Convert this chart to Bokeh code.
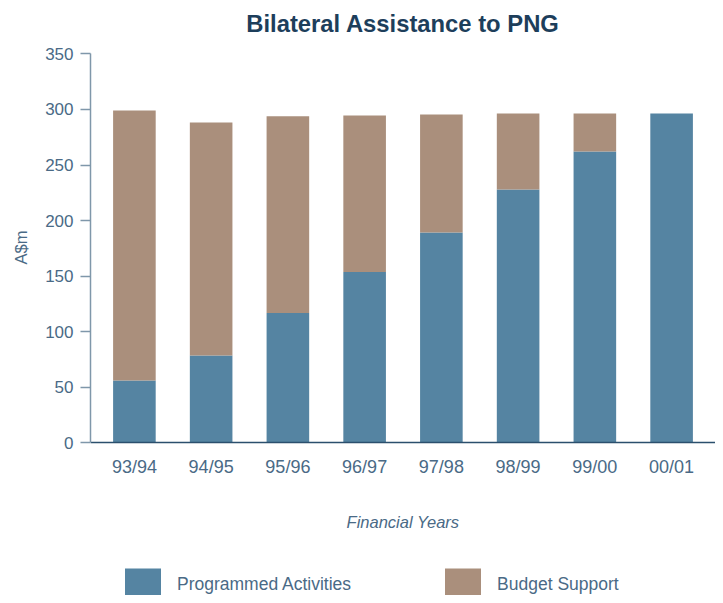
from bokeh.plotting import figure
from bokeh.models import ColumnDataSource, FactorRange, Range1d, Legend, LegendItem, FixedTicker, Title
from bokeh.embed import file_html
from bokeh.resources import INLINE

years = ["93/94", "94/95", "95/96", "96/97", "97/98", "98/99", "99/00", "00/01"]
programmed = [56.1, 78.6, 116.7, 153.6, 189.3, 228.0, 262.2, 296.4]
budget = [243.0, 209.7, 177.2, 141.0, 106.2, 68.4, 34.2, 0.0]
series = ["programmed", "budget"]
series_labels = ["Programmed Activities", "Budget Support"]
colors = ["#5584a2", "#aa8f7c"]
y_ticks = [0, 50, 100, 150, 200, 250, 300, 350]

TXT = "#4a6a86"
FONT = "Liberation Sans"

source = ColumnDataSource(dict(years=years, programmed=programmed, budget=budget))

p = figure(width=715, height=595,
           x_range=FactorRange(*years, range_padding=0.072, range_padding_units="absolute"),
           y_range=Range1d(-137.5, 357.6),
           output_backend="svg", toolbar_location=None,
           min_border_left=90, min_border_right=0, min_border_top=45, min_border_bottom=0)

renderers = p.vbar_stack(series, x="years", width=0.555, color=colors, source=source, line_color=None)

p.title.text = "Bilateral Assistance to PNG"
p.title.align = "center"
p.title.vertical_align = "top"
p.title.text_font = FONT
p.title.text_font_style = "bold"
p.title.text_font_size = "23.8px"
p.title.text_color = "#1d3e5b"
p.title.standoff = 14

p.xgrid.grid_line_color = None
p.ygrid.grid_line_color = None
p.outline_line_color = None

xa = p.xaxis[0]
xa.fixed_location = 0
xa.axis_line_color = "#2b4f6d"
xa.axis_line_width = 1.5
xa.major_tick_line_color = None
xa.major_tick_out = 0
xa.minor_tick_line_color = None
xa.major_label_text_font = FONT
xa.major_label_text_font_size = "18px"
xa.major_label_text_color = TXT
xa.major_label_standoff = 14
xa.axis_label = "Financial Years"
xa.axis_label_text_font = FONT
xa.axis_label_text_font_style = "italic"
xa.axis_label_text_font_size = "16.5px"
xa.axis_label_text_color = TXT
xa.axis_label_standoff = 33

ya = p.yaxis[0]
ya.ticker = FixedTicker(ticks=y_ticks)
ya.bounds = (0, 350)
ya.axis_line_color = "#7f97aa"
ya.axis_line_width = 1.5
ya.major_tick_line_color = "#7f97aa"
ya.major_tick_line_width = 1.5
ya.major_tick_out = 10
ya.major_tick_in = 0
ya.minor_tick_line_color = None
ya.major_label_text_font = FONT
ya.major_label_text_font_size = "17px"
ya.major_label_text_color = TXT
ya.major_label_standoff = 7

y_title = Title(text="A$m", align="left", vertical_align="top", offset=331, standoff=21,
                text_font=FONT, text_font_style="normal", text_font_size="16.5px",
                text_color=TXT)
p.add_layout(y_title, "left")

legend = Legend(
    items=[LegendItem(label=series_labels[i], renderers=[renderers[i]]) for i in range(2)],
    location=(30, -10), orientation="horizontal",
    glyph_width=45, glyph_height=41, label_standoff=12, spacing=89,
    padding=0, margin=0, border_line_color=None, background_fill_alpha=0,
    label_text_font=FONT, label_text_font_size="17.5px", label_text_color=TXT,
)
p.add_layout(legend)

open("out.html", "w").write(file_html(p, INLINE))
